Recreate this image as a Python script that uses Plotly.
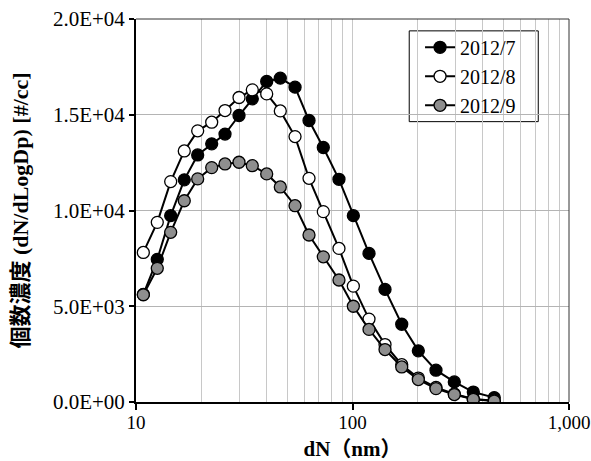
import plotly.graph_objects as go

diam = [10.81, 12.54, 14.46, 16.71, 19.27, 22.37, 25.77, 29.91, 34.45, 40.15, 46.4, 54.27,
        62.97, 73.3, 86.6, 100.9, 119.2, 141.3, 168.8, 201.4, 243.0, 295.3, 361.4, 451.6]

jul = [5620, 7450, 9730, 11600, 12900, 13480, 13990, 14960, 15830, 16740, 16910, 16440,
       14700, 13290, 11630, 9730, 7760, 5880, 4060, 2670, 1660, 1050, 520, 230]
aug = [7810, 9380, 11510, 13110, 14160, 14610, 15220, 15900, 16300, 16090, 15200, 13860,
       11680, 9940, 8020, 6050, 4330, 3000, 1950, 1250, 760, 420, 160, 60]
sep = [5600, 6980, 8860, 10510, 11650, 12240, 12430, 12520, 12340, 11910, 11230, 10250,
       8720, 7580, 6370, 5000, 3790, 2740, 1830, 1170, 700, 390, 140, 50]

series_names = ["2012/7", "2012/8", "2012/9"]
fills = ["#000000", "#ffffff", "#8e8e8e"]

y_tickvals = [0, 5000, 10000, 15000, 20000]
y_ticktext = ["0.0E+00", "5.0E+03", "1.0E+04", "1.5E+04", "2.0E+04"]
x_tickvals = [10, 100, 1000]
x_ticktext = ["10", "100", "1,000"]
x_minor = [20, 30, 40, 50, 60, 70, 80, 90, 200, 300, 400, 500, 600, 700, 800, 900]

serif = "Liberation Serif, Times New Roman, serif"
title_font = "Liberation Serif, Noto Sans CJK JP, serif"

fig = go.Figure()
for name, ys, fc in zip(series_names, [jul, aug, sep], fills):
    fig.add_trace(go.Scatter(
        x=diam, y=ys, name=name, mode="lines+markers",
        line=dict(color="#000000", width=2),
        marker=dict(symbol="circle", size=12, color=fc, line=dict(color="#000000", width=1.3)),
    ))

fig.update_layout(
    width=591, height=461,
    margin=dict(l=136, r=22, t=19, b=59, autoexpand=False),
    paper_bgcolor="white", plot_bgcolor="white",
    font=dict(family=serif, size=20, color="#000000"),
    showlegend=True,
    legend=dict(
        x=0.656, y=0.977, xanchor="left", yanchor="top",
        borderwidth=0, bgcolor="rgba(0,0,0,0)",
        font=dict(family=serif, size=20, color="#000000"),
        itemwidth=30, tracegroupgap=0,
    ),
    xaxis=dict(
        type="log", range=[1, 3], automargin=False,
        tickmode="array", tickvals=x_tickvals, ticktext=x_ticktext,
        ticks="outside", ticklen=6, tickwidth=1.5, tickcolor="#000000",
        ticklabeloverflow="allow", ticklabelstandoff=-4,
        showline=True, linecolor="#000000", linewidth=2,
        showgrid=True, gridcolor="#c8c8c8", gridwidth=1,
        minor=dict(tickmode="array", tickvals=x_minor, showgrid=True, gridcolor="#c8c8c8", gridwidth=1, ticks=""),
        zeroline=False,
        title=dict(text="<b>dN（nm）</b>", font=dict(family=title_font, size=21), standoff=10),
        tickfont=dict(family=serif, size=19),
    ),
    yaxis=dict(
        range=[0, 20000], automargin=False,
        tickmode="array", tickvals=y_tickvals, ticktext=y_ticktext,
        ticks="outside", ticklen=5, tickwidth=1.5, tickcolor="#000000",
        ticklabeloverflow="allow",
        showline=True, linecolor="#000000", linewidth=2,
        showgrid=True, gridcolor="#b4b4b4", gridwidth=1,
        zeroline=False,
        title=dict(text="<b>個数濃度 (dN/dLogDp) [#/cc]</b>", font=dict(family=title_font, size=22), standoff=18),
        tickfont=dict(family=serif, size=21),
    ),
    shapes=[
        dict(type="line", xref="paper", yref="paper", x0=0, x1=1, y0=1, y1=1, line=dict(color="#333333", width=1)),
        dict(type="line", xref="paper", yref="paper", x0=1, x1=1, y0=0, y1=1, line=dict(color="#333333", width=1)),
        dict(type="rect", xref="paper", yref="paper", x0=0.631, x1=0.929, y0=0.732, y1=0.969,
             line=dict(color="#000000", width=1), fillcolor="white", layer="between"),
    ],
)

fig.write_html("out.html")
